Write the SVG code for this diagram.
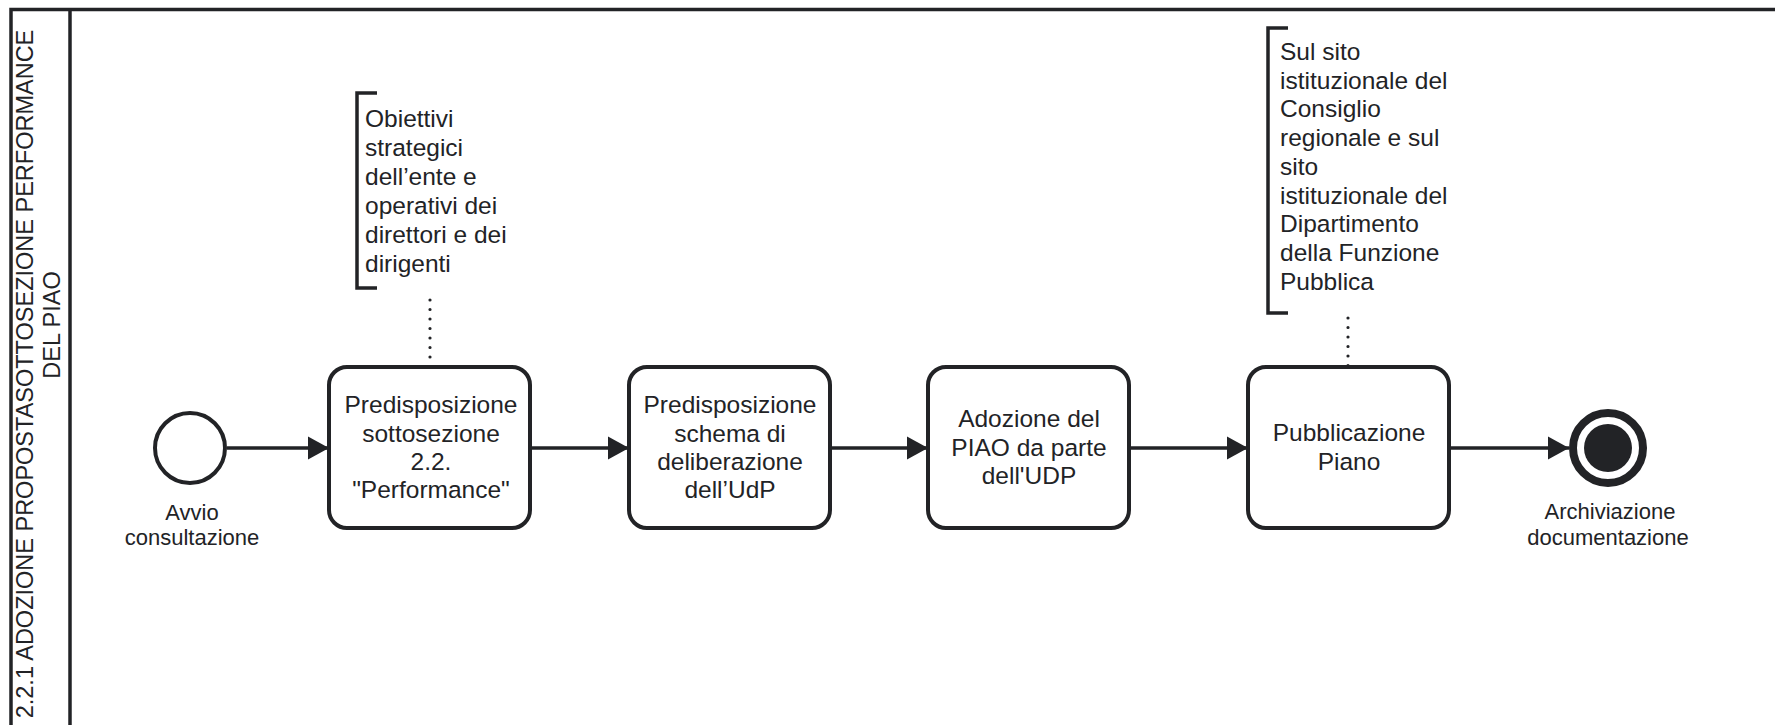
<svg xmlns="http://www.w3.org/2000/svg" width="1775" height="725" viewBox="0 0 1775 725">
<style>
text { font-family: "Liberation Sans", Arial, sans-serif; font-size: 24.5px; fill: #222326; }
.lbl { font-size: 22px; }
.lane { fill: none; stroke: #222326; stroke-width: 3.5; }
.task { fill: #fff; stroke: #222326; stroke-width: 4; }
.flow { fill: none; stroke: #222326; stroke-width: 3.5; }
.assoc { fill: none; stroke: #222326; stroke-width: 3.2; stroke-dasharray: 0 9.5; stroke-linecap: round; }
.bracket { fill: none; stroke: #222326; stroke-width: 3.5; }
</style>
<defs>
<marker id="arrow" markerUnits="userSpaceOnUse" markerWidth="23" markerHeight="25" refX="22" refY="12.5" orient="auto" viewBox="0 0 23 25">
<path d="M1,1 L22,12.5 L1,24 z" fill="#222326"/>
</marker>
</defs>
<rect width="1775" height="725" fill="#fff"/>
<g id="lane">
<rect class="lane" x="11" y="9.5" width="1800" height="740"/>
<line class="lane" x1="70" y1="9.5" x2="70" y2="730"/>
<text transform="translate(33,374) rotate(-90)" text-anchor="middle" style="font-size:23.5px">2.2.1 ADOZIONE PROPOSTASOTTOSEZIONE PERFORMANCE</text>
<text transform="translate(60,325) rotate(-90)" text-anchor="middle" style="font-size:23.5px">DEL PIAO</text>
</g>
<g id="connectors">
<line class="flow" x1="227" y1="448" x2="329" y2="448" marker-end="url(#arrow)"/>
<line class="flow" x1="531" y1="448" x2="629" y2="448" marker-end="url(#arrow)"/>
<line class="flow" x1="831" y1="448" x2="928" y2="448" marker-end="url(#arrow)"/>
<line class="flow" x1="1130" y1="448" x2="1248" y2="448" marker-end="url(#arrow)"/>
<line class="flow" x1="1450" y1="448" x2="1569" y2="448" marker-end="url(#arrow)"/>
<line class="assoc" x1="430" y1="300" x2="430" y2="366"/>
<line class="assoc" x1="1348" y1="318" x2="1348" y2="366"/>
</g>
<g id="start">
<circle cx="190" cy="448" r="35" fill="#fff" stroke="#222326" stroke-width="4"/>
<text class="lbl" x="192" y="520" text-anchor="middle">Avvio</text>
<text class="lbl" x="192" y="545" text-anchor="middle">consultazione</text>
</g>
<g id="task1">
<rect class="task" x="329" y="367" width="201" height="161" rx="18"/>
<text x="431" y="413" text-anchor="middle">Predisposizione</text>
<text x="431" y="442" text-anchor="middle">sottosezione</text>
<text x="431" y="470" text-anchor="middle">2.2.</text>
<text x="431" y="498" text-anchor="middle">"Performance"</text>
</g>
<g id="task2">
<rect class="task" x="629" y="367" width="201" height="161" rx="18"/>
<text x="730" y="413" text-anchor="middle">Predisposizione</text>
<text x="730" y="442" text-anchor="middle">schema di</text>
<text x="730" y="470" text-anchor="middle">deliberazione</text>
<text x="730" y="498" text-anchor="middle">dell’UdP</text>
</g>
<g id="task3">
<rect class="task" x="928" y="367" width="201" height="161" rx="18"/>
<text x="1029" y="427" text-anchor="middle">Adozione del</text>
<text x="1029" y="456" text-anchor="middle">PIAO da parte</text>
<text x="1029" y="484" text-anchor="middle">dell'UDP</text>
</g>
<g id="task4">
<rect class="task" x="1248" y="367" width="201" height="161" rx="18"/>
<text x="1349" y="441" text-anchor="middle">Pubblicazione</text>
<text x="1349" y="470" text-anchor="middle">Piano</text>
</g>
<g id="end">
<circle cx="1608" cy="448" r="35" fill="#fff" stroke="#222326" stroke-width="8"/>
<circle cx="1608" cy="448" r="24" fill="#222326"/>
<text class="lbl" x="1610" y="519" text-anchor="middle">Archiviazione</text>
<text class="lbl" x="1608" y="545" text-anchor="middle">documentazione</text>
</g>
<g id="annotation1">
<path class="bracket" d="M377,93 L357,93 L357,288 L377,288"/>
<text x="365" y="127">Obiettivi</text>
<text x="365" y="156">strategici</text>
<text x="365" y="185">dell’ente e</text>
<text x="365" y="214">operativi dei</text>
<text x="365" y="243">direttori e dei</text>
<text x="365" y="272">dirigenti</text>
</g>
<g id="annotation2">
<path class="bracket" d="M1288,28 L1268,28 L1268,313 L1288,313"/>
<text x="1280" y="60">Sul sito</text>
<text x="1280" y="89">istituzionale del</text>
<text x="1280" y="117">Consiglio</text>
<text x="1280" y="146">regionale e sul</text>
<text x="1280" y="175">sito</text>
<text x="1280" y="204">istituzionale del</text>
<text x="1280" y="232">Dipartimento</text>
<text x="1280" y="261">della Funzione</text>
<text x="1280" y="290">Pubblica</text>
</g>
</svg>
